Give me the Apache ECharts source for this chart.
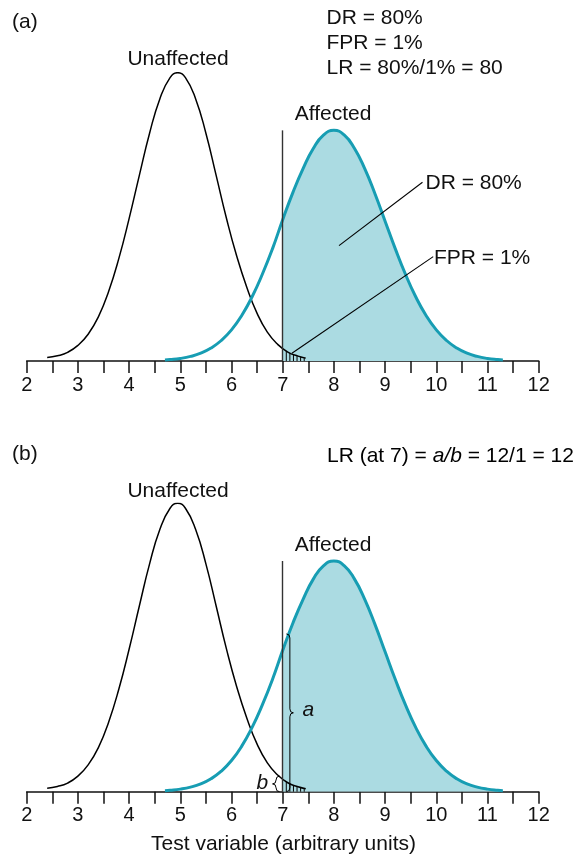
<!DOCTYPE html>
<html>
<head>
<meta charset="utf-8">
<script src="https://cdn.jsdelivr.net/npm/echarts@6/dist/echarts.min.js"></script>
<style>
  html, body { margin: 0; padding: 0; background: #fff; }
  #chart { width: 587px; height: 855px; }
</style>
</head>
<body>
<div id="chart"></div>
<script>
// ---- data ----
const xTicks = [2, 3, 4, 5, 6, 7, 8, 9, 10, 11, 12];
const unaffX = [2.4, 2.6, 2.8, 3.0, 3.2, 3.4, 3.6, 3.8, 4.0, 4.2, 4.4, 4.6, 4.8, 4.95, 5.1, 5.3, 5.5, 5.7, 5.9, 6.1, 6.3, 6.5, 6.7, 6.9, 7.1, 7.3, 7.45];
const unaffY = [1.2, 1.8, 3.0, 5.4, 9.3, 15.3, 24.1, 35.6, 49.4, 64.4, 79.0, 90.9, 98.3, 100, 98.3, 90.9, 79.0, 64.4, 49.6, 36.5, 25.5, 16.5, 10.0, 5.8, 3.1, 1.7, 1.0];
const affX = [4.7, 4.8, 5.0, 5.2, 5.4, 5.6, 5.8, 6.0, 6.2, 6.4, 6.6, 6.8, 7.0, 7.2, 7.4, 7.6, 7.8, 8.0, 8.2, 8.4, 8.6, 8.8, 9.0, 9.2, 9.4, 9.6, 9.8, 10.0, 10.2, 10.4, 10.6, 10.8, 11.0, 11.2, 11.3];
const affY = [0.35, 0.48, 0.89, 1.59, 2.72, 4.49, 7.11, 10.8, 15.8, 22.2, 30.0, 38.9, 49.0, 58.5, 66.8, 73.8, 78.4, 80.0, 78.4, 73.8, 66.8, 58.1, 48.5, 38.9, 30.0, 22.2, 15.8, 10.8, 7.11, 4.49, 2.72, 1.59, 0.89, 0.48, 0.35];
const cutoff = [7, 80];              // threshold x, height of threshold line
const hatchX = [7.07, 7.14, 7.21, 7.28, 7.35, 7.42];
const hatchY = [3.5, 2.8, 2.2, 1.75, 1.35, 1.1];
const drLeader = [[8.1, 40], [9.73, 62]];
const fprLeader = [[7.18, 2.7], [9.94, 36.2]];
const braceA = [7.14, 0, 54.7];      // x, from, to
const braceB = [6.87, 0, 5.4];

// ---- build ----
const unaffData = unaffX.map((x, i) => [x, unaffY[i]]);
const affData = affX.map((x, i) => [x, affY[i]]);
const fillData = affData.filter(d => d[0] >= cutoff[0]);
const hatchData = hatchX.map((x, i) => [x, hatchY[i]]);

const CYAN = '#179db3';
const FILL = '#abdbe2';
const INK = '#111';
const FONT = 'Liberation Sans, Arial, sans-serif';

const chart = echarts.init(document.getElementById('chart'), null, { renderer: 'canvas' });

function xAxisDef(idx) {
  return {
    type: 'value', gridIndex: idx, min: 2, max: 12, interval: 1,
    axisLine: { show: true, lineStyle: { color: INK, width: 1.6 } },
    axisTick: { show: true, length: 12, lineStyle: { color: INK, width: 1.5 } },
    minorTick: { show: true, splitNumber: 2, length: 12, lineStyle: { color: INK, width: 1.5 } },
    splitLine: { show: false }, minorSplitLine: { show: false },
    axisLabel: { color: INK, fontSize: 20, fontFamily: FONT, margin: 14,
      formatter: v => (xTicks.indexOf(v) >= 0 ? String(v) : '') }
  };
}
function yAxisDef(idx) {
  return { type: 'value', gridIndex: idx, min: 0, max: 100, show: false, splitLine: { show: false } };
}

function hatchRender(params, api) {
  const x = api.value(0), h = api.value(1);
  const p0 = api.coord([x, 0]), p1 = api.coord([x, h]);
  return { type: 'line', shape: { x1: p0[0], y1: p0[1], x2: p1[0], y2: p1[1] },
    style: { stroke: '#000', lineWidth: 1 } };
}

function braceRender(params, api) {
  const x = api.value(0), y0 = api.value(1), y1 = api.value(2), dir = api.value(3);
  const pb = api.coord([x, y0]), pt = api.coord([x, y1]);
  const bx = pb[0], yb = pb[1], yt = pt[1];
  const w = 3.5 * dir;
  const hx = bx - w, tx = bx + w;
  const mid = (yb + yt) / 2;
  const r = Math.min(4, (yb - yt) / 4);
  const d = `M${hx} ${yt} Q${bx} ${yt} ${bx} ${yt + r} L${bx} ${mid - r} Q${bx} ${mid} ${tx} ${mid} ` +
            `Q${bx} ${mid} ${bx} ${mid + r} L${bx} ${yb - r} Q${bx} ${yb} ${hx} ${yb}`;
  return { type: 'path', shape: { pathData: d }, style: { fill: null, stroke: '#000', lineWidth: 1 } };
}

function panelSeries(idx, withLeaders, withBraces) {
  const mlData = [[{ coord: [cutoff[0], 0] }, { coord: [cutoff[0], cutoff[1]] }]];
  if (withLeaders) {
    mlData.push([{ coord: drLeader[0], lineStyle: { color: '#000', width: 1.1 } }, { coord: drLeader[1] }]);
    mlData.push([{ coord: fprLeader[0], lineStyle: { color: '#000', width: 1.1 } }, { coord: fprLeader[1] }]);
  }
  const s = [
    { type: 'line', xAxisIndex: idx, yAxisIndex: idx, data: fillData, smooth: true, showSymbol: false,
      lineStyle: { width: 0 }, areaStyle: { color: FILL, opacity: 1 }, z: 1, silent: true },
    { type: 'line', xAxisIndex: idx, yAxisIndex: idx, data: unaffData, smooth: true, showSymbol: false,
      lineStyle: { color: '#000', width: 1.5 }, z: 3, silent: true,
      markLine: { symbol: 'none', silent: true, label: { show: false },
        lineStyle: { color: '#333', width: 1.4, type: 'solid' }, data: mlData } },
    { type: 'line', xAxisIndex: idx, yAxisIndex: idx, data: affData, smooth: true, showSymbol: false,
      lineStyle: { color: CYAN, width: 3 }, z: 4, silent: true },
    { type: 'custom', xAxisIndex: idx, yAxisIndex: idx, data: hatchData, renderItem: hatchRender, z: 5, silent: true }
  ];
  if (withBraces) {
    s.push({ type: 'custom', xAxisIndex: idx, yAxisIndex: idx,
      data: [[braceA[0], braceA[1], braceA[2], 1], [braceB[0], braceB[1], braceB[2], -1]],
      renderItem: braceRender, z: 6, silent: true });
  }
  return s;
}

function txt(x, y, text, opts) {
  return { type: 'text', x: x, y: y, z: 100, silent: true,
    style: Object.assign({ text: text, fill: INK, font: '21px ' + FONT, textAlign: 'left', textVerticalAlign: 'middle' }, opts || {}) };
}

const option = {
  backgroundColor: '#fff',
  animation: false,
  grid: [
    { left: 26.7, right: 48.3, top: 72.7, height: 288.3 },
    { left: 26.7, right: 48.3, top: 503.3, height: 288.4 }
  ],
  xAxis: [xAxisDef(0), xAxisDef(1)],
  yAxis: [yAxisDef(0), yAxisDef(1)],
  series: [].concat(panelSeries(0, true, false), panelSeries(1, false, true)),
  graphic: [
    txt(12, 22, '(a)'),
    txt(178, 59.5, 'Unaffected', { textAlign: 'center' }),
    txt(333, 114.5, 'Affected', { textAlign: 'center' }),
    txt(326.5, 18.5, 'DR = 80%'),
    txt(326.5, 43, 'FPR = 1%'),
    txt(326.5, 67.8, 'LR = 80%/1% = 80'),
    txt(425.5, 183.5, 'DR = 80%'),
    txt(434, 258, 'FPR = 1%'),
    txt(12, 454, '(b)'),
    {
      type: 'text', x: 327, y: 456, z: 100, silent: true,
      style: {
        text: '{n|LR (at 7) = }{i|a/b}{n| = 12/1 = 12}',
        textVerticalAlign: 'middle',
        rich: {
          n: { fontSize: 21, fontFamily: FONT, color: INK },
          i: { fontSize: 21, fontFamily: FONT, fontStyle: 'italic', color: INK }
        }
      }
    },
    txt(178, 491, 'Unaffected', { textAlign: 'center' }),
    txt(333, 545.5, 'Affected', { textAlign: 'center' }),
    txt(302.5, 710, 'a', { font: 'italic 21px ' + FONT }),
    txt(256.5, 783, 'b', { font: 'italic 21px ' + FONT }),
    txt(283.5, 844.5, 'Test variable (arbitrary units)', { textAlign: 'center' })
  ]
};
chart.setOption(option);
</script>
</body>
</html>
